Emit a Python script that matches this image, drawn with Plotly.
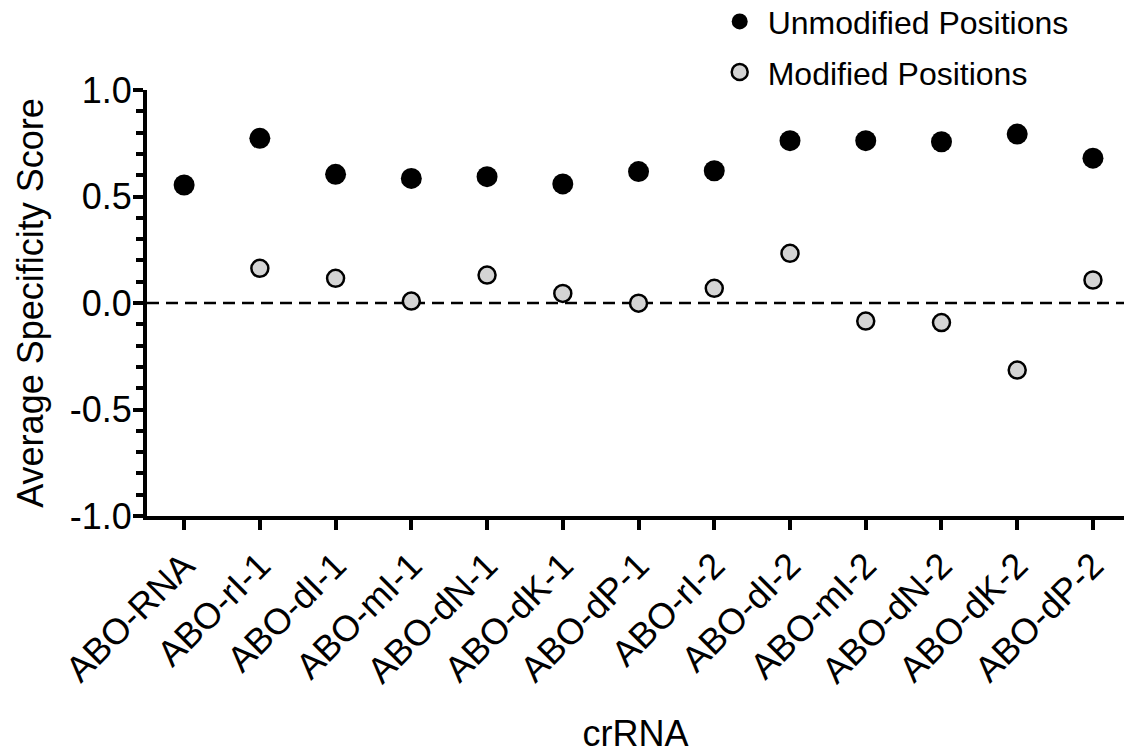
import plotly.graph_objects as go

categories = ["ABO-RNA", "ABO-rI-1", "ABO-dI-1", "ABO-mI-1", "ABO-dN-1", "ABO-dK-1",
              "ABO-dP-1", "ABO-rI-2", "ABO-dI-2", "ABO-mI-2", "ABO-dN-2", "ABO-dK-2", "ABO-dP-2"]
unmodified = [0.554, 0.773, 0.604, 0.585, 0.593, 0.559, 0.617, 0.621, 0.762, 0.762, 0.757, 0.793, 0.680]
modified = [None, 0.163, 0.116, 0.009, 0.131, 0.045, -0.001, 0.069, 0.233, -0.085, -0.092, -0.315, 0.108]
y_ticks = [-1.0, -0.5, 0.0, 0.5, 1.0]
y_tick_labels = ["-1.0", "-0.5", "0.0", "0.5", "1.0"]

FONT = "Arial, 'Liberation Sans', Helvetica, sans-serif"
xidx = list(range(len(categories)))

fig = go.Figure()
fig.add_trace(go.Scatter(
    x=xidx, y=unmodified, mode="markers", name="Unmodified Positions",
    legendgroup="a",
    marker=dict(size=21, color="black", line=dict(width=0)),
))
fig.add_trace(go.Scatter(
    x=xidx, y=modified, mode="markers", name="Modified Positions",
    legendgroup="b",
    marker=dict(size=17, color="#d4d4d4", line=dict(width=2.5, color="black")),
))

fig.add_shape(type="line", xref="paper", x0=0, x1=1, yref="y", y0=0, y1=0,
              line=dict(color="black", width=2.5, dash="12px,7px"), layer="below")

fig.update_layout(
    width=1124, height=754,
    margin=dict(l=147, r=0, t=90, b=238, autoexpand=False),
    plot_bgcolor="white", paper_bgcolor="white",
    font=dict(family=FONT, color="black", size=32),
    showlegend=True,
    legend=dict(x=0.578, y=1.225, xanchor="left", yanchor="top",
                font=dict(size=32, family=FONT), tracegroupgap=6,
                bgcolor="rgba(0,0,0,0)", itemwidth=46),
    xaxis=dict(
        range=[-0.49, 12.41], tickmode="array", tickvals=xidx, ticktext=categories,
        tickangle=-45, ticks="outside", ticklen=10, tickwidth=3.5, tickcolor="black",
        showline=True, linewidth=4, linecolor="black", showgrid=False, zeroline=False,
        tickfont=dict(size=36, family=FONT),
        title=dict(text="crRNA", font=dict(size=36, family=FONT), standoff=34),
        automargin=False,
    ),
    yaxis=dict(
        range=[-1, 1], tickmode="array", tickvals=y_ticks, ticktext=y_tick_labels,
        ticks="outside", ticklen=10, tickwidth=3.5, tickcolor="black",
        minor=dict(dtick=0.1, ticks="outside", ticklen=7, tickwidth=3.5, tickcolor="black", showgrid=False),
        showline=True, linewidth=4, linecolor="black", showgrid=False, zeroline=False,
        tickfont=dict(size=36, family=FONT), ticklabelstandoff=-6,
        title=dict(text="Average Specificity Score", font=dict(size=36, family=FONT), standoff=16),
        automargin=False,
    ),
)

fig.write_html("out.html", post_script="document.body.style.margin='0';",
               config={"displayModeBar": False})
